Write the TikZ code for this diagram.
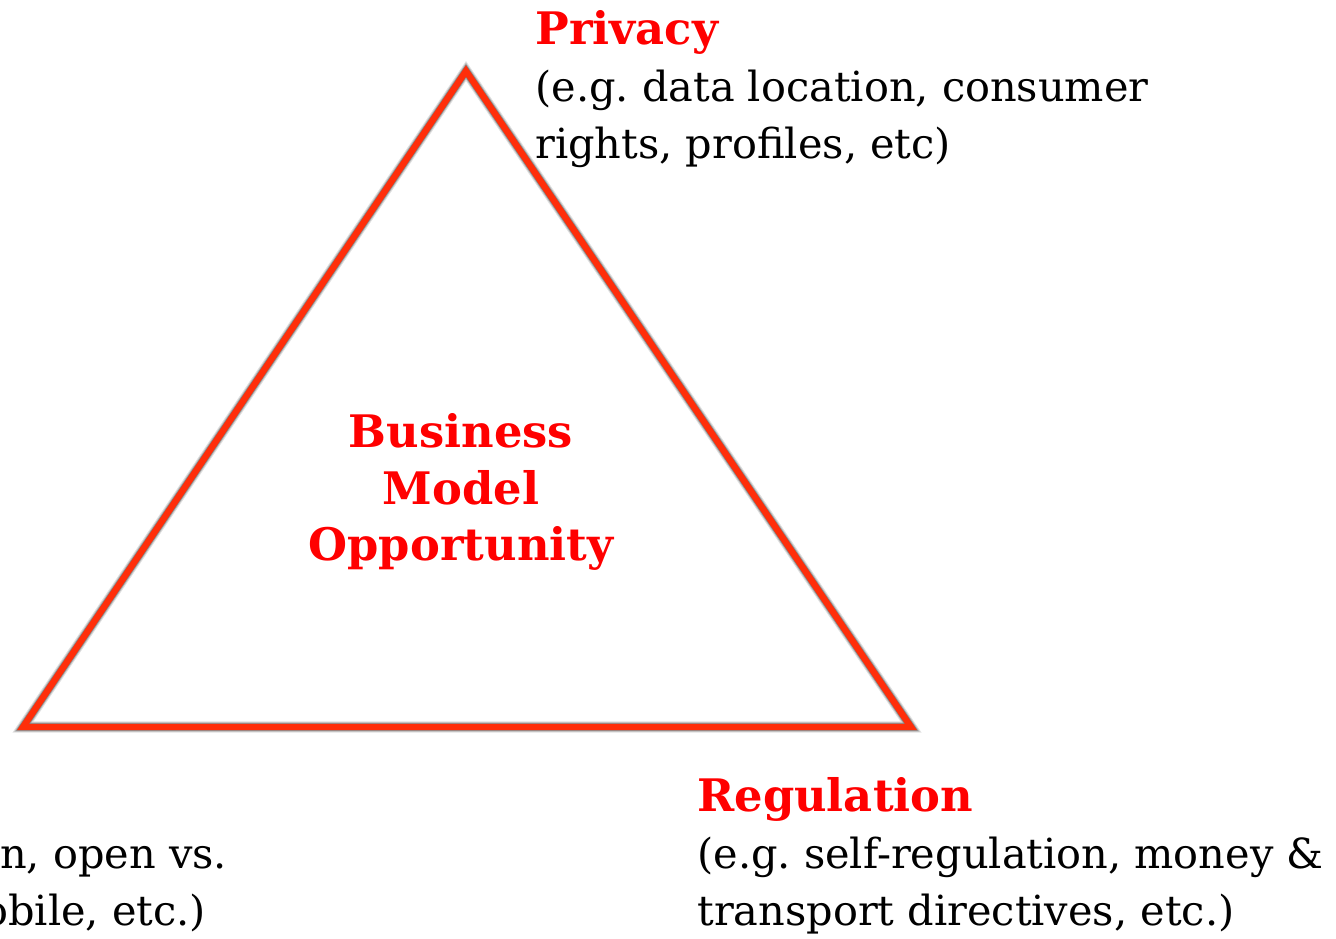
\documentclass[tikz,border=0pt]{standalone}
\usepackage{fontspec}
\setmainfont{DejaVu Serif}
\usetikzlibrary{calc}
\definecolor{edgered}{rgb}{1.0, 0.18, 0.04}
\definecolor{titlered}{rgb}{1.0, 0.0, 0.0}

\tikzset{
  label text/.style={inner sep=0pt, align=left, anchor=north west,
    font=\fontsize{23.6}{32.4}\selectfont\frenchspacing},
  title/.style={color=titlered, font=\fontsize{25.5}{32.4}\selectfont\bfseries}
}

\begin{document}
\begin{tikzpicture}[x=0.02cm, y=-0.02cm, line join=miter]
  \useasboundingbox (0,0) rectangle (1336,938);
  \clip (0,0) rectangle (1336,938);

  \coordinate (top) at (466, 71);
  \coordinate (left) at (23, 727);
  \coordinate (right) at (911, 727);

  % soft shadow under the frame
  \foreach \w/\o in {6.4/0.12, 5.2/0.2, 4.2/0.3}
    \draw[black, opacity=\o, line width=\w pt, shift={(1.5,3)}] (top) -- (left) -- (right) -- cycle;
  \draw[edgered, line width=3.6pt] (top) -- (left) -- (right) -- cycle;

  \node[inner sep=0pt, align=center, title]
    (opportunity) at (461, 492) {Business\\Model\\Opportunity};

  \node[label text] (privacy) at (535, 10)
    {{\color{titlered}\bfseries\fontsize{25.5}{32.4}\selectfont Privacy}\\(e.g. data location, consumer\\rights, profiles, etc)};
  \node[label text] (regulation) at (697, 777)
    {{\color{titlered}\bfseries\fontsize{25.5}{32.4}\selectfont Regulation}\\(e.g. self-regulation, money \&\\transport directives, etc.)};
  \node[label text] (platform) at (-17, 846)
    {\hspace*{9.6pt}n, open vs.\\obile, etc.)};
\end{tikzpicture}
\end{document}
